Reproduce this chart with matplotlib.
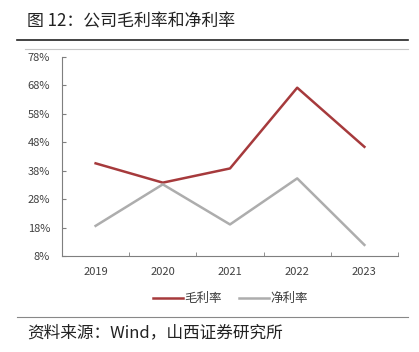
import numpy as np
import matplotlib
matplotlib.use("Agg")
import matplotlib.pyplot as plt
from matplotlib.lines import Line2D

plt.rcParams['font.family'] = ['Noto Sans CJK SC', 'DejaVu Sans']

years = ["2019", "2020", "2021", "2022", "2023"]
gross_margin = [40.6, 33.8, 38.8, 67.2, 46.4]
net_margin = [18.6, 33.2, 19.1, 35.3, 11.9]
yticks = [8, 18, 28, 38, 48, 58, 68, 78]

red = "#A63A3C"
gray = "#ADADAD"
axis_col = "#7F7F7F"

fig = plt.figure(figsize=(4.19, 3.52), dpi=100)

# title + rules
fig.text(27 / 419, 1 - 21 / 352, "图 12：公司毛利率和净利率", fontsize=12.2,
         va="center", ha="left", color="#222222")
fig.add_artist(Line2D([17 / 419, 408 / 419], [1 - 40 / 352] * 2, color="#222222", lw=1.2))
fig.add_artist(Line2D([25 / 419, 408 / 419], [1 - 49 / 352] * 2, color="#C8C8C8", lw=0.8))
fig.add_artist(Line2D([17 / 419, 408 / 419], [1 - 317 / 352] * 2, color="#888888", lw=0.8))
fig.text(27 / 419, 1 - 333 / 352, "资料来源：Wind，山西证券研究所", fontsize=12,
         va="center", ha="left", color="#222222")

ax = fig.add_axes([62 / 419, 1 - 256 / 352, 336 / 419, 199 / 352])
x = np.arange(len(years))
ax.plot(x, gross_margin, color=red, lw=1.8, label="毛利率")
ax.plot(x, net_margin, color=gray, lw=1.8, label="净利率")

ax.set_xlim(-0.5, len(years) - 0.5)
ax.set_ylim(8, 78)
ax.set_yticks(yticks)
ax.set_yticklabels([f"{v}%" for v in yticks], fontsize=8, color="#404040")
ax.set_xticks(x)
ax.set_xticklabels(years, fontsize=8, color="#404040")
ax.set_xticks(np.arange(-0.5, len(years), 1), minor=True)
ax.tick_params(axis="x", which="major", length=0, pad=8)
ax.tick_params(axis="x", which="minor", length=3, color=axis_col, direction="in")
ax.tick_params(axis="y", length=3, color=axis_col, direction="in", pad=8.5)

for s in ["top", "right"]:
    ax.spines[s].set_visible(False)
for s in ["left", "bottom"]:
    ax.spines[s].set_color(axis_col)
    ax.spines[s].set_linewidth(0.8)

ax.legend(loc="center", bbox_to_anchor=(0.5, -0.215), ncol=2, frameon=False,
          fontsize=9, handlelength=2.4, handletextpad=0.1, columnspacing=1.4,
          labelcolor="#404040")

fig.savefig("out.png", dpi=100)
